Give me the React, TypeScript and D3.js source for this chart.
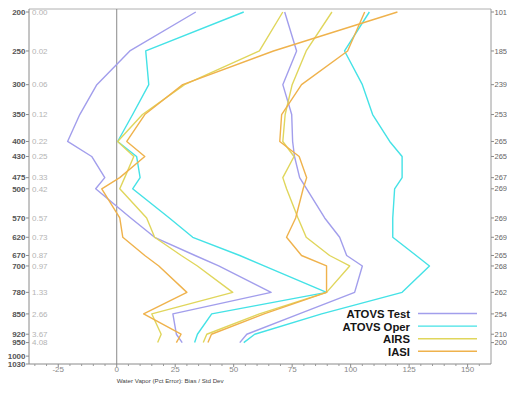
import React from "react";
import * as d3 from "d3";

// Pressure levels (hPa) with data
const levels = [200, 250, 300, 350, 400, 430, 475, 500, 570, 620, 670, 700, 780, 850, 920, 950];
const pressureTicks = [200, 250, 300, 350, 400, 430, 475, 500, 570, 620, 670, 700, 780, 850, 920, 950, 1000, 1030];
const mixingRatio = ["0.00", "0.02", "0.06", "0.12", "0.22", "0.25", "0.33", "0.42", "0.57", "0.73", "0.87", "0.97", "1.33", "2.66", "3.67", "4.08"];
const obsCounts = [101, 185, 239, 253, 265, 265, 267, 269, 269, 269, 265, 268, 262, 254, 210, 200];
const xTicks = [-25, 0, 25, 50, 75, 100, 125, 150];

const seriesNames = ["ATOVS Test", "ATOVS Oper", "AIRS", "IASI"];

const atovsTestBias = [33.8, 5.6, -8.5, -15.8, -21, -10.7, -5.1, -9, 6, 16.2, 33.5, 43.6, 66, 24, 25.5, 28];
const atovsOperBias = [54.3, 12.4, 13.7, 6.8, 0.4, 8.5, 10, 6.8, 22.5, 32.5, 52.6, 63, 89.7, 40.6, 34.5, 33.3];
const airsBias = [71, 61, 29, 11, 0.4, 7.3, 3.4, 1.3, 12.8, 16.2, 27.6, 34.5, 49.6, 15, 19, 17.5];
const iasiBias = [120, 67, 28.2, 12, 4.3, 12, 1.3, -6.4, 1.3, 2.6, 12, 18, 30, 11.5, 27.5, 25.5];

const atovsTestStd = [71.8, 76.9, 71, 74.8, 75.2, 76, 78.2, 81.2, 88.9, 95.3, 98.3, 105, 101.7, 78, 55.6, 52.6];
const atovsOperStd = [108, 97.4, 105, 109.4, 116.7, 122, 122, 118.8, 118, 118, 128, 133.7, 122, 87.6, 59, 54.3];
const airsStd = [92, 81, 75, 72, 71, 75.8, 71, 72.6, 77.5, 81, 91, 99.6, 89.7, 61, 38.5, 37];
const iasiStd = [106, 98.7, 79, 70.5, 69.7, 78, 81.2, 79.7, 76.5, 72.6, 79, 89.7, 89.7, 63, 40.5, 39];

const seriesBias = [atovsTestBias, atovsOperBias, airsBias, iasiBias];
const seriesStd = [atovsTestStd, atovsOperStd, airsStd, iasiStd];
const seriesColors = ["#a29eec", "#44e2e6", "#e0d65c", "#efb24c"];

export default function App() {
  const W = 507;
  const H = 396;
  const left = 29;
  const right = 491;
  const top = 9;
  const bottom = 364;

  const x = d3.scaleLinear().domain([-37.5, 160]).range([left, right]);
  const y = d3.scalePow().exponent(0.28).domain([200, 1030]).range([12, bottom]);

  const line = d3
    .line<number>()
    .x((d) => x(d))
    .y((_, i) => y(levels[i]));

  const minorTicks = d3.range(-35, 160, 5).filter((v) => v % 25 !== 0);
  const font = "Liberation Sans, Arial, sans-serif";

  return (
    <svg
      width={W}
      height={H}
      style={{ position: "absolute", left: 0, top: 0, background: "#fff" }}
      fontFamily={font}
    >
      <rect x={0} y={0} width={W} height={H} fill="#fff" />
      {/* frame */}
      <line x1={left} x2={right} y1={top} y2={top} stroke="#b0b0b0" strokeWidth={1} />
      <line x1={right} x2={right} y1={top} y2={bottom} stroke="#9a9a9a" strokeWidth={1} />
      <line x1={left} x2={left} y1={top} y2={bottom} stroke="#8a8a8a" strokeWidth={1} />
      <line x1={left} x2={right} y1={bottom} y2={bottom} stroke="#8a8a8a" strokeWidth={1} />
      {/* zero line */}
      <line x1={x(0)} x2={x(0)} y1={top} y2={bottom} stroke="#8a8a8a" strokeWidth={1} />

      {/* left pressure axis */}
      {pressureTicks.map((p) => (
        <g key={"l" + p}>
          <line x1={left - 3} x2={left} y1={y(p)} y2={y(p)} stroke="#8a8a8a" />
          <text x={left - 3.5} y={y(p)} dy="0.35em" textAnchor="end" fontSize={8} fontWeight="bold" fill="#555">
            {p}
          </text>
        </g>
      ))}
      {levels.map((p, i) => (
        <text key={"m" + p} x={left + 3} y={y(p)} dy="0.35em" fontSize={8} fill="#b4b4b4">
          {mixingRatio[i]}
        </text>
      ))}

      {/* right count axis */}
      {levels.map((p, i) => (
        <g key={"r" + p}>
          <line x1={right} x2={right + 3} y1={y(p)} y2={y(p)} stroke="#8a8a8a" />
          <text x={right + 3.5} y={y(p)} dy="0.35em" fontSize={7.5} fill="#666">
            {obsCounts[i]}
          </text>
        </g>
      ))}

      {/* bottom axis */}
      {minorTicks.map((v) => (
        <line key={"n" + v} x1={x(v)} x2={x(v)} y1={bottom} y2={bottom + 2} stroke="#9a9a9a" />
      ))}
      {xTicks.map((v) => (
        <g key={"x" + v}>
          <line x1={x(v)} x2={x(v)} y1={bottom} y2={bottom + 3} stroke="#8a8a8a" />
          <text x={x(v)} y={bottom + 7.5} textAnchor="middle" fontSize={8} fill="#888">
            {v}
          </text>
        </g>
      ))}
      <text x={x(0)} y={383} fontSize={6.2} fill="#444">
        Water Vapor (Pct Error): Bias / Std Dev
      </text>

      {/* series */}
      {seriesNames.map((name, k) => (
        <g key={name} fill="none" stroke={seriesColors[k]} strokeWidth={1.4} strokeLinejoin="round">
          <path d={line(seriesBias[k]) || ""} />
          <path d={line(seriesStd[k]) || ""} />
        </g>
      ))}

      {/* legend */}
      {seriesNames.map((name, k) => (
        <g key={"lg" + name}>
          <text x={410} y={318 + k * 12.6} textAnchor="end" fontSize={11.3} fontWeight="bold" fill="#151515">
            {name}
          </text>
          <line x1={418} x2={477} y1={313.5 + k * 12.6} y2={313.5 + k * 12.6} stroke={seriesColors[k]} strokeWidth={1.4} />
        </g>
      ))}
    </svg>
  );
}
